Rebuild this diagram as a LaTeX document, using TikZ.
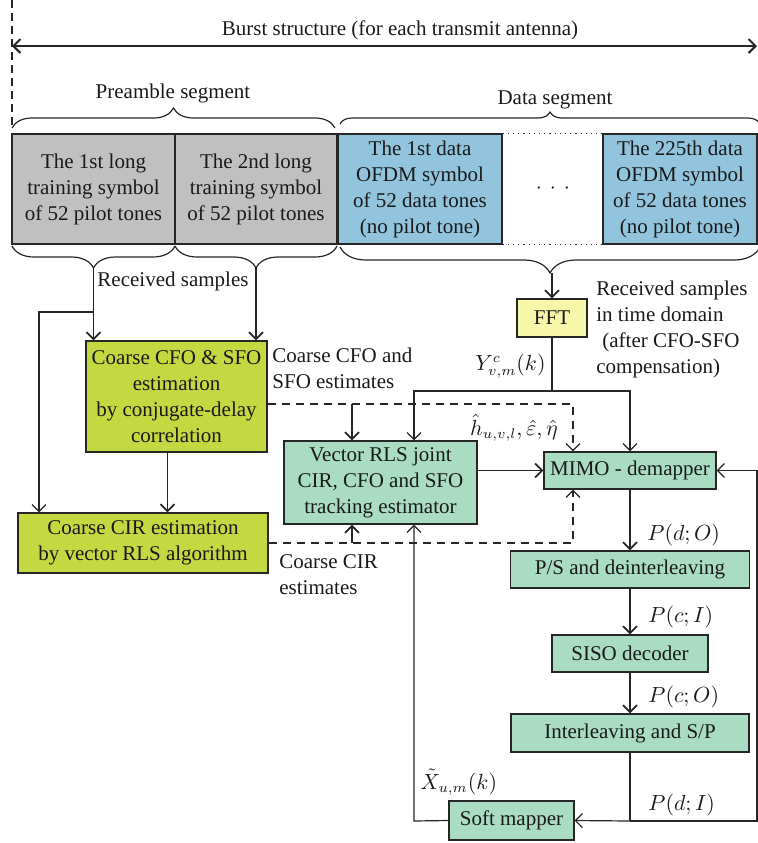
\documentclass[tikz,border=0pt]{standalone}
\usepackage{fontspec}
\setmainfont{Liberation Serif}
\newfontfamily\dgfont{Liberation Serif}
\usetikzlibrary{positioning,calc,arrows.meta,decorations.pathreplacing}
\definecolor{txt}{HTML}{1A1A1A}
\definecolor{lnB}{HTML}{262626}
\definecolor{gyF}{HTML}{C0C0C0}
\definecolor{blF}{HTML}{92C4DE}
\definecolor{lmF}{HTML}{C4D842}
\definecolor{tlF}{HTML}{A9DCC3}
\definecolor{ylF}{HTML}{F8F6A9}

\begin{document}
\begin{tikzpicture}[x=0.5pt,y=-0.5pt,font=\dgfont\fontsize{10.5}{13}\selectfont,text=txt,
  >={Straight Barb[length=3.5pt,width=7pt]},
  blk/.style={draw=lnB,line width=0.6pt,align=center,inner sep=1pt},
  sym/.style={blk,minimum height=55pt},
  est/.style={blk,fill=lmF},
  trk/.style={blk,fill=tlF,minimum height=18.5pt},
  brc/.style={decorate,line width=0.6pt,draw=lnB},
  thk/.style={draw=lnB,line width=0.9pt},
  thn/.style={draw=lnB,line width=0.6pt},
  dsh/.style={draw=lnB,line width=0.6pt,dash pattern=on 4pt off 3pt},
  lbl/.style={inner sep=0pt,align=left}]
\useasboundingbox (0,0) rectangle (758,843);

% burst structure
\coordinate (bl) at (12,46);
\coordinate (br) at (757,46);
\draw[dsh,dash pattern=on 4pt off 2.5pt] (12,0) -- (12,128);
\draw[<->,draw=lnB,line width=1pt] (bl) -- (br);
\node (burst) at (400,30) {Burst structure (for each transmit antenna)};

% symbols
\node[sym,fill=gyF,minimum width=81.5pt] (lts1) at (93.5,189) {The 1st long\\training symbol\\of 52 pilot tones};
\node[sym,fill=gyF,minimum width=81pt] (lts2) at (256,189) {The 2nd long\\training symbol\\of 52 pilot tones};
\node[sym,fill=blF,minimum width=82pt] (ds1) at (420,189) {The 1st data\\OFDM symbol\\of 52 data tones\\(no pilot tone)};
\node[sym,fill=blF,minimum width=77pt] (ds225) at (680,189) {The 225th data\\OFDM symbol\\of 52 data tones\\(no pilot tone)};
\node (dots) at (553,189) {$\cdot$\hspace{4pt}$\cdot$\hspace{4pt}$\cdot$};
\draw[thn,dotted] (ds1.north east) -- (ds225.north west);
\draw[thn,dotted] (ds1.south east) -- (ds225.south west);

% braces
\draw[brc,decoration={brace,amplitude=10pt}] (12,128) -- (335,128);
\node (pre) at (173,93) {Preamble segment};
\draw[brc,decoration={brace,amplitude=6pt}] (340,124) -- (760,124);
\node (dat) at (555,100) {Data segment};
\draw[brc,decoration={brace,amplitude=11pt,mirror}] (12,246) -- (175,246);
\draw[brc,decoration={brace,amplitude=11pt,mirror}] (175,246) -- (337,246);
\draw[brc,decoration={brace,amplitude=13pt,mirror}] (340,247) -- (760,247);
\coordinate (b1) at (93.5,268);
\coordinate (b2) at (256,268);
\coordinate (bd) at (552,273);
\node (rcv) at (173,281) {Received samples};

% estimators
\node[est,minimum width=90.5pt,minimum height=55.5pt] (cfo) at (176.5,396.5) {Coarse CFO \& SFO\\estimation\\by conjugate-delay\\correlation};
\node[est,minimum width=125pt,minimum height=30pt] (cir) at (143,543) {Coarse CIR estimation\\by vector RLS algorithm};
\node[blk,fill=ylF,minimum width=35pt,minimum height=19pt] (fft) at (552,318) {FFT};
\node[blk,fill=tlF,minimum width=96.5pt,minimum height=41.5pt] (rls) at (380.5,482.5) {Vector RLS joint\\CIR, CFO and SFO\\tracking estimator};
\node[trk,minimum width=86pt] (mimo) at (630,470.5) {MIMO - demapper};
\node[trk,minimum width=119.5pt] (ps) at (630,569.5) {P/S and deinterleaving};
\node[trk,minimum width=78pt] (siso) at (630,653.5) {SISO decoder};
\node[trk,minimum width=119pt,minimum height=19pt] (ilv) at (630,733) {Interleaving and S/P};
\node[trk,minimum width=62.5pt,minimum height=19.5pt] (soft) at (511.5,820.5) {Soft mapper};

% received samples
\coordinate (rs) at (93.5,312);
\coordinate (rsl) at (39,312);
\draw[thk,->] (b1) -- (b1 |- cfo.north);
\draw[thk,->] (b2) -- (b2 |- cfo.north);
\draw[thn,->] (rs) -- (rsl) -- (rsl |- cir.north);
\draw[thk,->] ([xshift=-4.5pt]cfo.south) -- ([xshift=-4.5pt]cfo.south |- cir.north);
\draw[thk,->] (bd) -- (fft.north);

% coarse estimates
\coordinate (dA) at (573,404);
\coordinate (dB) at (352,404);
\coordinate (dC) at (573,543);
\coordinate (dD) at (352,543);
\draw[dsh,->] (cfo.east |- dA) -- (dA) -- (dA |- mimo.north);
\draw[thk,->] (dB) -- (dB |- rls.north);
\draw[dsh,->] (cir.east) -- (dC) -- (dC |- mimo.south);
\draw[thk,->] (dD) -- (dD |- rls.south);
\node[lbl,anchor=west] (lcfo) at (272,368) {Coarse CFO and\\SFO estimates};
\node[lbl,anchor=west] (lcir) at (279,575) {Coarse CIR\\estimates};

% FFT output
\coordinate (fj) at (552,391);
\coordinate (fl) at (414,391);
\draw[thk] (fft.south) -- (fj);
\draw[thn,->] (fj) -- (fl) -- (fl |- rls.north);
\draw[thn,->] (fj) -| (mimo.north);
\node[lbl,anchor=west] (ltd) at (596,329) {Received samples\\in time domain\\\hspace{3pt}(after CFO-SFO\\compensation)};
\node[lbl,anchor=east] (ly) at (546,366) {$Y^{c}_{v,m}(k)$};
\node[lbl] (lh) at (514,428) {$\hat{h}_{u,v,l},\hat{\varepsilon},\hat{\eta}$};
\draw[thk,->] (rls.east |- mimo.west) -- (mimo.west);

% turbo loop
\draw[thk,->] (mimo.south) -- (ps.north);
\node[lbl,anchor=west] (pdo) at (647,535) {$P(d;O)$};
\draw[thk,->] (ps.south) -- (siso.north);
\node[lbl,anchor=west] (pci) at (648,617) {$P(c;I)$};
\draw[thk,->] (siso.south) -- (ilv.north);
\node[lbl,anchor=west] (pco) at (648,697) {$P(c;O)$};
\coordinate (jd) at (630,821);
\coordinate (jr) at (757,821);
\draw[thn] (ilv.south) -- (jd);
\draw[thn,->] (jd) -- (soft.east);
\draw[thn,->] (jd) -- (jr) -- (jr |- mimo.east) -- (mimo.east);
\node[lbl,anchor=west] (pdi) at (648,805) {$P(d;I)$};
\coordinate (fb) at (414,821);
\draw[thn,->] (soft.west) -- (fb) -- (fb |- rls.south);
\node[lbl,anchor=west] (lx) at (420,782) {$\tilde{X}_{u,m}(k)$};

\end{tikzpicture}
\end{document}
